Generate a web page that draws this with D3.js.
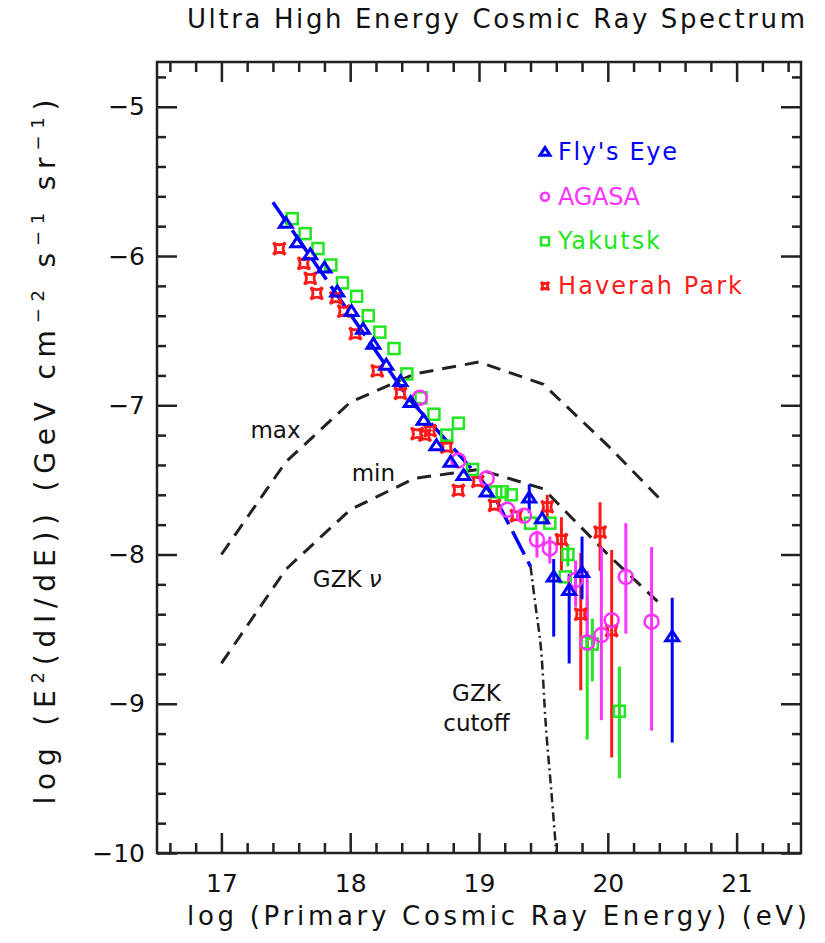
<!DOCTYPE html>
<html>
<head>
<meta charset="utf-8">
<script src="https://cdn.jsdelivr.net/npm/d3@7"></script>
<style>
  body { margin: 0; background: #fff; }
  text { font-family: "DejaVu Sans", sans-serif; fill: #111; }
</style>
</head>
<body>
<div id="chart"></div>
<script>
// tick labels
const xMajor = [17, 18, 19, 20, 21];
const yMajor = [-10, -9, -8, -7, -6, -5];

// [log E, log flux, errLow, errHigh]
const flysEye = [
  [17.50, -5.78], [17.59, -5.91], [17.69, -5.99], [17.80, -6.08], [17.90, -6.24],
  [18.01, -6.37], [18.10, -6.49], [18.18, -6.59], [18.28, -6.73], [18.39, -6.84],
  [18.47, -6.98], [18.57, -7.10], [18.67, -7.27], [18.78, -7.38], [18.88, -7.47],
  [19.06, -7.58], [19.39, -7.62, -7.72, -7.53], [19.49, -7.76],
  [19.58, -8.15, -8.55, -8.03], [19.70, -8.24, -8.73, -8.13],
  [19.80, -8.12, -8.30, -7.88], [20.50, -8.55, -9.26, -8.29]
];
const agasa = [
  [18.54, -6.95], [18.84, -7.37], [19.06, -7.49], [19.22, -7.70], [19.35, -7.74],
  [19.45, -7.90, -8.02, -7.84], [19.55, -7.96, -8.06, -7.88],
  [19.75, -8.17, -8.35, -8.04], [19.84, -8.59, -8.62, -8.11],
  [19.95, -8.54, -9.11, -7.95], [20.03, -8.44], [20.14, -8.15, -8.53, -7.79],
  [20.34, -8.45, -9.18, -7.95]
];
const yakutsk = [
  [17.55, -5.75], [17.65, -5.85], [17.75, -5.95], [17.85, -6.06], [17.94, -6.18],
  [18.05, -6.27], [18.14, -6.40], [18.23, -6.51], [18.34, -6.62], [18.44, -6.79],
  [18.55, -6.95], [18.65, -7.06], [18.75, -7.20], [18.84, -7.12], [18.95, -7.43],
  [19.13, -7.58], [19.18, -7.58], [19.25, -7.60], [19.40, -7.79], [19.55, -7.79],
  [19.67, -8.15], [19.69, -8.00, -8.08, -7.93],
  [19.84, -8.59, -9.24, -8.27], [19.88, -8.60, -8.85, -8.43],
  [20.09, -9.05, -9.50, -8.75]
];
const haverah = [
  [17.45, -5.95], [17.64, -6.05], [17.69, -6.15], [17.74, -6.25], [17.89, -6.28],
  [17.95, -6.37], [18.04, -6.52], [18.21, -6.77], [18.39, -6.92], [18.52, -7.19],
  [18.58, -7.20], [18.62, -7.17], [18.75, -7.28], [18.84, -7.57], [18.99, -7.51],
  [19.12, -7.67], [19.29, -7.74], [19.53, -7.68, -7.80, -7.60],
  [19.64, -7.90, -8.11, -7.75], [19.79, -8.40, -8.91, -7.99],
  [19.94, -7.85, -8.11, -7.65], [20.03, -8.51, -9.36, -7.97]
];

// curves
const gzkNuMax = [[17.0, -8.00], [17.5, -7.38], [18.0, -6.98], [18.5, -6.79],
  [19.0, -6.71], [19.5, -6.86], [20.0, -7.27], [20.43, -7.65]];
const gzkNuMin = [[17.0, -8.73], [17.5, -8.10], [18.0, -7.70], [18.5, -7.49],
  [19.0, -7.43], [19.5, -7.56], [20.0, -8.00], [20.43, -8.35]];
const flysEyeFit = [[17.40, -5.64], [18.45, -6.95], [19.02, -7.50], [19.15, -7.66], [19.40, -8.08]];
const gzkCutoff = [[19.40, -8.08], [19.44, -8.35], [19.48, -8.62], [19.52, -9.16],
  [19.56, -9.57], [19.60, -10.0]];

const W = 825, H = 943;
const x = d3.scaleLinear().domain([16.5, 21.5]).range([157, 801]);
const y = d3.scaleLinear().domain([-10, -4.7]).range([853, 62]);

const svg = d3.select("#chart").append("svg").attr("width", W).attr("height", H);

const xMinor = d3.range(16.6, 21.45, 0.2).filter(v => Math.abs(v - Math.round(v)) > 0.05);
const yMinor = d3.range(-9.8, -4.65, 0.2).filter(v => Math.abs(v - Math.round(v)) > 0.05);

function axisLayer(axis, tx, ty) {
  const g = svg.append("g").attr("transform", `translate(${tx},${ty})`).call(axis);
  g.select(".domain").remove();
  g.selectAll(".tick line").attr("stroke", "#222").attr("stroke-width", 2.5);
  g.selectAll("text").attr("font-size", 25).attr("font-family", "DejaVu Sans").attr("fill", "#111");
  return g;
}

axisLayer(d3.axisBottom(x).tickValues(xMajor).tickSize(-20).tickPadding(21).tickFormat(d3.format("d")), 0, 853);
axisLayer(d3.axisBottom(x).tickValues(xMinor).tickSize(-10).tickFormat(""), 0, 853);
axisLayer(d3.axisTop(x).tickValues(xMajor).tickSize(-20).tickFormat(""), 0, 62);
axisLayer(d3.axisTop(x).tickValues(xMinor).tickSize(-10).tickFormat(""), 0, 62);
axisLayer(d3.axisLeft(y).tickValues(yMajor).tickSize(-20).tickPadding(12).tickFormat(d => "\u2212" + Math.abs(d)), 157, 0);
axisLayer(d3.axisLeft(y).tickValues(yMinor).tickSize(-9).tickFormat(""), 157, 0);
axisLayer(d3.axisRight(y).tickValues(yMajor).tickSize(-20).tickFormat(""), 801, 0);
axisLayer(d3.axisRight(y).tickValues(yMinor).tickSize(-9).tickFormat(""), 801, 0);

svg.append("rect").attr("x", 157).attr("y", 62).attr("width", 801 - 157).attr("height", 853 - 62)
  .attr("fill", "none").attr("stroke", "#222").attr("stroke-width", 2.5);

// titles
svg.append("text").attr("x", 496).attr("y", 28).attr("text-anchor", "middle")
  .attr("font-size", 26).attr("textLength", 618).attr("lengthAdjust", "spacing")
  .text("Ultra High Energy Cosmic Ray Spectrum");
svg.append("text").attr("x", 497).attr("y", 925).attr("text-anchor", "middle")
  .attr("font-size", 26).attr("textLength", 620).attr("lengthAdjust", "spacing")
  .text("log (Primary Cosmic Ray Energy) (eV)");

const yl = svg.append("text").attr("transform", "translate(55,452) rotate(-90)")
  .attr("text-anchor", "middle").attr("font-size", 28)
  .attr("textLength", 705).attr("lengthAdjust", "spacing");
yl.append("tspan").text("log  (E");
yl.append("tspan").attr("dy", -11).attr("font-size", 18).text("2");
yl.append("tspan").attr("dy", 11).text("(dI/dE))  (GeV cm");
yl.append("tspan").attr("dy", -11).attr("font-size", 18).text("\u22122");
yl.append("tspan").attr("dy", 11).text(" s");
yl.append("tspan").attr("dy", -11).attr("font-size", 18).text("\u22121");
yl.append("tspan").attr("dy", 11).text(" sr");
yl.append("tspan").attr("dy", -11).attr("font-size", 18).text("\u22121");
yl.append("tspan").attr("dy", 11).text(")");

const plot = svg.append("g");
const line = d3.line().x(d => x(d[0])).y(d => y(d[1]));

plot.append("path").datum(gzkNuMax).attr("d", line).attr("fill", "none")
  .attr("stroke", "#222").attr("stroke-width", 3).attr("stroke-dasharray", "14 9");
plot.append("path").datum(gzkNuMin).attr("d", line).attr("fill", "none")
  .attr("stroke", "#222").attr("stroke-width", 3).attr("stroke-dasharray", "14 9");
plot.append("path").datum(gzkCutoff).attr("d", line.curve(d3.curveCatmullRom)).attr("fill", "none")
  .attr("stroke", "#222").attr("stroke-width", 2.5).attr("stroke-dasharray", "9 4 2 4");
line.curve(d3.curveLinear);
plot.append("path").datum(flysEyeFit).attr("d", line).attr("fill", "none")
  .attr("stroke", "#0000ff").attr("stroke-width", 3.5).attr("stroke-dasharray", "26 8");

// annotations
plot.append("text").attr("x", x(17.42)).attr("y", y(-7.22)).attr("text-anchor", "middle").attr("font-size", 23).text("max");
plot.append("text").attr("x", x(18.18)).attr("y", y(-7.51)).attr("text-anchor", "middle").attr("font-size", 23).text("min");
const nu = plot.append("text").attr("x", x(17.71)).attr("y", y(-8.22)).attr("font-size", 23);
nu.append("tspan").text("GZK ");
nu.append("tspan").attr("font-style", "italic").text("\u03bd");
plot.append("text").attr("x", x(18.98)).attr("y", y(-8.98)).attr("text-anchor", "middle").attr("font-size", 23).text("GZK");
plot.append("text").attr("x", x(18.98)).attr("y", y(-9.18)).attr("text-anchor", "middle").attr("font-size", 23).text("cutoff");

// symbols
const triPath = s => `M0,${-s * 0.55}L${s * 0.62},${s * 0.4}L${-s * 0.62},${s * 0.4}Z`;
const starPath = s => `M${-s},${-s}Q0,${-s * 0.25} ${s},${-s}Q${s * 0.25},0 ${s},${s}Q0,${s * 0.25} ${-s},${s}Q${-s * 0.25},0 ${-s},${-s}Z`;

const series = [
  { data: haverah, color: "#ff1a1a", shape: "star" },
  { data: yakutsk, color: "#22e622", shape: "square" },
  { data: agasa, color: "#ff33ff", shape: "circle" },
  { data: flysEye, color: "#0000ff", shape: "tri" }
];

function drawSymbol(g, shape, color, s) {
  if (shape === "circle") {
    g.append("circle").attr("r", s).attr("fill", "none").attr("stroke", color).attr("stroke-width", 2.5);
  } else if (shape === "square") {
    g.append("rect").attr("x", -s).attr("y", -s).attr("width", 2 * s).attr("height", 2 * s)
      .attr("fill", "none").attr("stroke", color).attr("stroke-width", 2.5);
  } else if (shape === "tri") {
    g.append("path").attr("d", triPath(s * 1.6)).attr("fill", "none").attr("stroke", color)
      .attr("stroke-width", 3).attr("stroke-linejoin", "miter");
  } else {
    g.append("path").attr("d", starPath(s)).attr("fill", "none").attr("stroke", color).attr("stroke-width", 2.8);
  }
}

const sizes = { star: 6, square: 5.5, circle: 7, tri: 6.5 };

series.forEach(sr => {
  plot.append("g").selectAll("line").data(sr.data.filter(d => d.length > 2)).join("line")
    .attr("x1", d => x(d[0])).attr("x2", d => x(d[0]))
    .attr("y1", d => y(d[2])).attr("y2", d => y(d[3]))
    .attr("stroke", sr.color).attr("stroke-width", 3);
});
series.forEach(sr => {
  plot.append("g").selectAll("g").data(sr.data).join("g")
    .attr("transform", d => `translate(${x(d[0])},${y(d[1])})`)
    .each(function () { drawSymbol(d3.select(this), sr.shape, sr.color, sizes[sr.shape]); });
});

// legend
const legend = [
  { name: "Fly's Eye", color: "#0000ff", shape: "tri", w: 119 },
  { name: "AGASA", color: "#ff33ff", shape: "circle", w: 82 },
  { name: "Yakutsk", color: "#22e622", shape: "square", w: 102 },
  { name: "Haverah Park", color: "#ff1a1a", shape: "star", w: 184 }
];
const legY = d3.scaleLinear().domain([0, 3]).range([160, 294]);
const lg = svg.append("g").selectAll("g").data(legend).join("g")
  .attr("transform", (d, i) => `translate(545,${legY(i)})`);
lg.each(function (d) {
  const g = d3.select(this).append("g").attr("transform", "translate(0,-8)");
  drawSymbol(g, d.shape, d.color, d.shape === "tri" ? 5 : 4);
  d3.select(this).append("text").attr("x", 13).attr("y", 0).attr("font-size", 24)
    .attr("textLength", d.w).attr("lengthAdjust", "spacing")
    .style("fill", d.color).text(d.name);
});
</script>
</body>
</html>
